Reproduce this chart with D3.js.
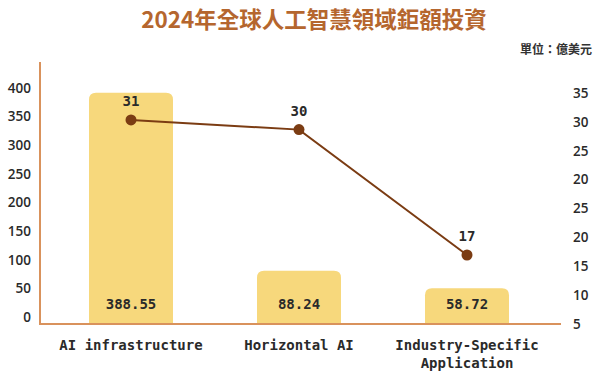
<!DOCTYPE html>
<html>
<head>
<meta charset="utf-8">
<script src="https://cdn.jsdelivr.net/npm/d3@7"></script>
<style>
  html, body { margin: 0; padding: 0; background: #ffffff; }
  svg { display: block; }
</style>
</head>
<body>
<svg id="chart" width="600" height="376"></svg>
<script>
// ---- data ----
const categories = ["AI infrastructure", "Horizontal AI", "Industry-Specific Application"];
const categoryLines = [["AI infrastructure"], ["Horizontal AI"], ["Industry-Specific", "Application"]];
const investment = [388.55, 88.24, 58.72];   // bars (億美元)
const dealCount = [31, 30, 17];              // line
const leftTicks = [0, 50, 100, 150, 200, 250, 300, 350, 400];
const rightTickLabels = ["35", "30", "25", "20", "25", "20", "15", "10", "5"];
const title = "2024年全球人工智慧領域鉅額投資";
const unitLabel = "單位：億美元";

// ---- layout ----
const svg = d3.select("#chart");
const baseline = 324;
const axisColor = "#d9925c";
const barColor = "#f7d87c";
const lineColor = "#7b3c13";
const textColor = "#2a2a2a";
const monoFont = "'DejaVu Sans Mono', 'Liberation Mono', monospace";
const sansFont = "'Open Sans', 'Noto Sans', sans-serif";

const x = d3.scaleBand().domain(categories).range([47, 551]).paddingInner(0.5).paddingOuter(0.25);
const yBar = d3.scaleLinear().domain([0, 400]).range([323, 86]);
const yTick = d3.scaleLinear().domain([0, 400]).range([317, 88]);
const yLine = d3.scaleLinear().domain([10, 35]).range([322.5, 81.4]);
const yRight = d3.scalePoint().domain(d3.range(rightTickLabels.length)).range([93, 324]);

// title
svg.append("text")
  .attr("x", 314).attr("y", 28)
  .attr("text-anchor", "middle")
  .attr("font-family", "'Noto Sans CJK TC', sans-serif")
  .attr("font-weight", 700)
  .attr("font-size", 22.5)
  .attr("fill", "#b5662e")
  .text(title);

svg.append("text")
  .attr("x", 592).attr("y", 54)
  .attr("text-anchor", "end")
  .attr("font-family", "'Noto Sans CJK TC', sans-serif")
  .attr("font-weight", 700)
  .attr("font-size", 12)
  .attr("fill", "#333")
  .text(unitLabel);

// bars with rounded top corners
const r = 7;
svg.append("g").selectAll("path")
  .data(investment)
  .join("path")
  .attr("fill", barColor)
  .attr("d", (d, i) => {
    const x0 = x(categories[i]), w = x.bandwidth(), y0 = yBar(d);
    return `M${x0},${baseline} L${x0},${y0 + r} Q${x0},${y0} ${x0 + r},${y0} L${x0 + w - r},${y0} Q${x0 + w},${y0} ${x0 + w},${y0 + r} L${x0 + w},${baseline} Z`;
  });

// bar value labels
svg.append("g").selectAll("text")
  .data(investment)
  .join("text")
  .attr("x", (d, i) => x(categories[i]) + x.bandwidth() / 2)
  .attr("y", 309)
  .attr("text-anchor", "middle")
  .attr("font-family", monoFont)
  .attr("font-weight", 700)
  .attr("font-size", 14)
  .attr("fill", textColor)
  .text(d => d.toFixed(2));

// axes lines
svg.append("line")
  .attr("x1", 40).attr("x2", 40).attr("y1", 62).attr("y2", baseline)
  .attr("stroke", axisColor).attr("stroke-width", 2);
svg.append("line")
  .attr("x1", 39).attr("x2", 561).attr("y1", baseline).attr("y2", baseline)
  .attr("stroke", axisColor).attr("stroke-width", 2);

// left axis labels
const leftAxis = svg.append("g")
  .attr("transform", "translate(31,0)")
  .call(d3.axisLeft(yTick).tickValues(leftTicks).tickSize(0).tickPadding(0));
leftAxis.select(".domain").remove();
leftAxis.selectAll("text")
  .attr("font-family", sansFont)
  .attr("font-weight", 600)
  .attr("font-size", 13.5)
  .attr("fill", textColor);

// right axis labels
const rightAxis = svg.append("g")
  .attr("transform", "translate(573,0)")
  .call(d3.axisRight(yRight).tickSize(0).tickPadding(0).tickFormat(i => rightTickLabels[i]));
rightAxis.select(".domain").remove();
rightAxis.selectAll("text")
  .attr("font-family", sansFont)
  .attr("font-weight", 600)
  .attr("font-size", 13.5)
  .attr("fill", textColor);

// category labels
const cats = svg.append("g").selectAll("text")
  .data(categories)
  .join("text")
  .attr("x", d => x(d) + x.bandwidth() / 2)
  .attr("y", 350)
  .attr("text-anchor", "middle")
  .attr("font-family", monoFont)
  .attr("font-weight", 700)
  .attr("font-size", 14)
  .attr("fill", textColor);
cats.each(function (d, i) {
  d3.select(this).selectAll("tspan")
    .data(categoryLines[i])
    .join("tspan")
    .attr("x", x(d) + x.bandwidth() / 2)
    .attr("dy", (t, j) => j === 0 ? 0 : 18)
    .text(t => t);
});

// line
const line = d3.line()
  .x((d, i) => x(categories[i]) + x.bandwidth() / 2)
  .y(d => yLine(d));
svg.append("path")
  .datum(dealCount)
  .attr("d", line)
  .attr("fill", "none")
  .attr("stroke", lineColor)
  .attr("stroke-width", 2);
svg.append("g").selectAll("circle")
  .data(dealCount)
  .join("circle")
  .attr("cx", (d, i) => x(categories[i]) + x.bandwidth() / 2)
  .attr("cy", d => yLine(d))
  .attr("r", 5.5)
  .attr("fill", lineColor);
svg.append("g").selectAll("text")
  .data(dealCount)
  .join("text")
  .attr("x", (d, i) => x(categories[i]) + x.bandwidth() / 2)
  .attr("y", d => yLine(d) - 14)
  .attr("text-anchor", "middle")
  .attr("font-family", monoFont)
  .attr("font-weight", 700)
  .attr("font-size", 14)
  .attr("fill", textColor)
  .text(d => d);
</script>
</body>
</html>
